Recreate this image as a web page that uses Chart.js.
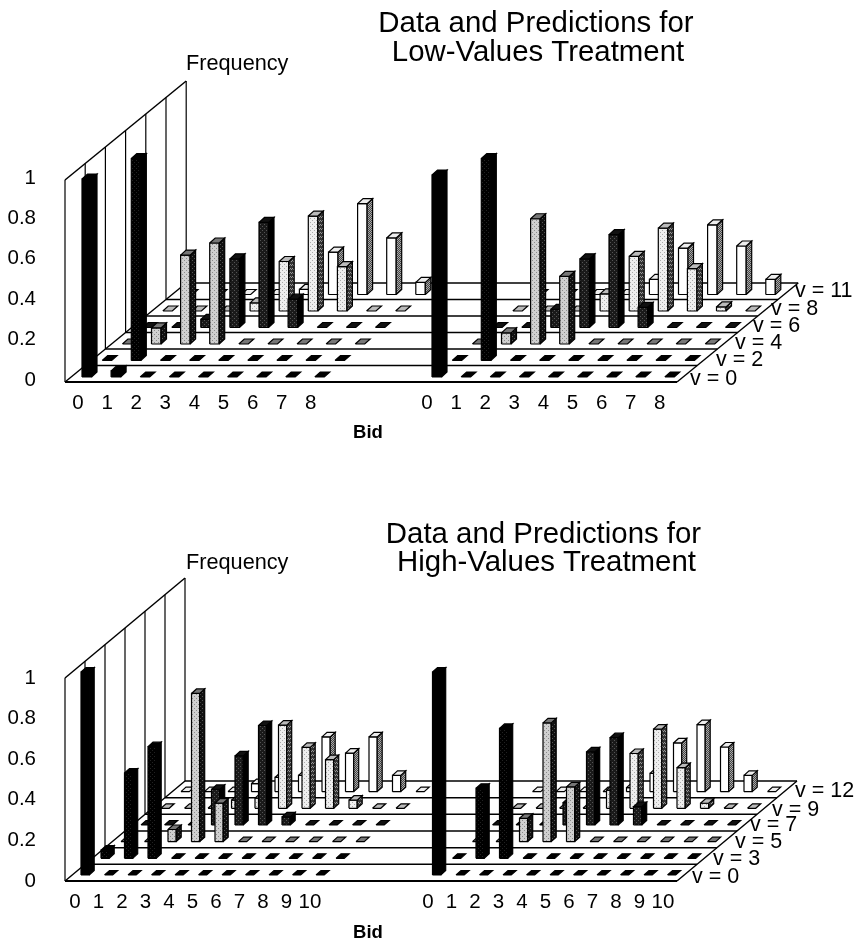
<!DOCTYPE html>
<html><head><meta charset="utf-8">
<style>html,body{margin:0;padding:0;background:#fff}canvas{position:absolute;left:0}</style>
<script src="https://cdn.jsdelivr.net/npm/chart.js@4"></script>
</head><body>
<canvas id="low" width="857" height="470" style="top:0"></canvas>
<canvas id="high" width="857" height="469" style="top:470px"></canvas>
<script>
// ---------- data ----------
const freqTicks = [0, 0.2, 0.4, 0.6, 0.8, 1];
const freqTickLabels = ['0', '0.2', '0.4', '0.6', '0.8', '1'];

const lowBids = ['0','1','2','3','4','5','6','7','8'];
const highBids = ['0','1','2','3','4','5','6','7','8','9','10'];
const lowValues = ['v = 0','v = 2','v = 4','v = 6','v = 8','v = 11'];
const highValues = ['v = 0','v = 3','v = 5','v = 7','v = 9','v = 12'];

const lowData_v0  = [0.98,0.03,0,0,0,0,0,0,0];
const lowData_v2  = [0,1.0,0,0,0,0,0,0,0];
const lowData_v4  = [0,0.08,0.44,0.5,0,0,0,0,0];
const lowData_v6  = [0,0,0.04,0.34,0.52,0.14,0,0,0];
const lowData_v8  = [0,0,0,0.04,0.245,0.47,0.22,0,0];
const lowData_v11 = [0,0,0,0,0.025,0.21,0.45,0.28,0.06];

const lowPred_v0  = [1.0,0,0,0,0,0,0,0,0];
const lowPred_v2  = [0,1.0,0,0,0,0,0,0,0];
const lowPred_v4  = [0,0.055,0.62,0.335,0,0,0,0,0];
const lowPred_v6  = [0,0,0.09,0.34,0.46,0.1,0,0,0];
const lowPred_v8  = [0,0,0,0.085,0.27,0.41,0.21,0.02,0];
const lowPred_v11 = [0,0,0,0,0.075,0.23,0.345,0.24,0.075];

const highData_v0  = [1.0,0,0,0,0,0,0,0,0,0,0];
const highData_v3  = [0.04,0.42,0.55,0,0,0,0,0,0,0,0];
const highData_v5  = [0,0,0.06,0.73,0.19,0,0,0,0,0,0];
const highData_v7  = [0,0,0,0.175,0.34,0.49,0.04,0,0,0,0];
const highData_v9  = [0,0,0,0.04,0.05,0.41,0.3,0.24,0.04,0,0];
const highData_v12 = [0,0,0,0.04,0.07,0.08,0.27,0.19,0.27,0.08,0];

const highPred_v0  = [1.0,0,0,0,0,0,0,0,0,0,0];
const highPred_v3  = [0,0.345,0.64,0,0,0,0,0,0,0,0];
const highPred_v5  = [0,0,0.115,0.585,0.27,0,0,0,0,0,0];
const highPred_v7  = [0,0,0,0.11,0.36,0.43,0.09,0,0,0,0];
const highPred_v9  = [0,0,0,0,0.09,0.27,0.39,0.2,0.025,0,0];
const highPred_v12 = [0,0,0,0,0.02,0.09,0.24,0.33,0.22,0.08,0];

// ---------- styling ----------
function stipple(base, speck, cells) {
  const c = document.createElement('canvas'); c.width = c.height = 4;
  const g = c.getContext('2d');
  g.fillStyle = base; g.fillRect(0, 0, 4, 4);
  g.fillStyle = speck;
  cells.forEach(p => g.fillRect(p[0], p[1], 1, 1));
  return g.createPattern(c, 'repeat');
}
const sparse = [[0,0],[2,2]], dense = [[0,0],[2,0],[1,1],[3,1],[0,2],[2,2],[1,3],[3,3]];
const rowStyles = [
  {front:'#000', side:'#000', top:'#000'},
  {front:stipple('#000','#222',sparse), side:'#000', top:'#000'},
  {front:stipple('#cfcfcf','#8a8a8a',sparse), side:stipple('#111','#555',sparse), top:'#777'},
  {front:stipple('#1a1a1a','#555',sparse), side:'#000', top:'#111'},
  {front:stipple('#eeeeee','#aaa',sparse), side:stipple('#333','#999',dense.slice(0,4)), top:'#bbb'},
  {front:'#fff', side:stipple('#444','#aaa',dense), top:'#eee'}
];

// ---------- oblique projection, in scale units ----------
function build(cfg) {
  const ds = [];
  const poly = (pts, fill, lw) => ds.push({
    data: pts, showLine: true, fill: fill ? 'shape' : false,
    backgroundColor: fill || 'rgba(0,0,0,0)', borderColor: '#000',
    borderWidth: lw === undefined ? 1.2 : lw, pointRadius: 0, tension: 0, clip: false, borderJoinStyle: 'miter'
  });
  const depth = j => ({x: j * cfg.rowX, y: j * cfg.rowY});
  for (let j = 0; j <= 6; j++) {
    const d = depth(j);
    poly([{x:d.x, y:d.y},{x:d.x, y:d.y + 1}], null, 1.2);
  }
  poly([depth(0), depth(6)].map(d => ({x:d.x, y:d.y + 1})), null, 1.5);
  poly([depth(0), depth(6)], null, 1.4);
  poly([depth(0), depth(6)].map(d => ({x:d.x + cfg.floorLen, y:d.y})), null, 1.4);

  for (let j = 5; j >= 0; j--) {
    const st = rowStyles[j];
    const b = depth(j + 1);
    poly([{x:b.x, y:b.y},{x:b.x + cfg.floorLen, y:b.y}], null, 1.5);
    cfg.rows[j].forEach((vals, p) => {
      vals.forEach((v, i) => {
        const x0 = cfg.barStart[p] + i + j * cfg.rowX, y0 = cfg.base + j * cfg.rowY;
        const x1 = x0 + cfg.w, y1 = y0 + v;
        if (v > 0) {
          poly([{x:x0,y:y0},{x:x1,y:y0},{x:x1,y:y1},{x:x0,y:y1},{x:x0,y:y0}], st.front);
          poly([{x:x1,y:y0},{x:x1+cfg.dx,y:y0+cfg.dy},{x:x1+cfg.dx,y:y1+cfg.dy},{x:x1,y:y1},{x:x1,y:y0}], st.side);
        }
        poly([{x:x0,y:y1},{x:x1,y:y1},{x:x1+cfg.dx,y:y1+cfg.dy},{x:x0+cfg.dx,y:y1+cfg.dy},{x:x0,y:y1}], st.top);
      });
    });
  }
  poly([{x:0,y:0},{x:cfg.floorLen,y:0}], null, 1.8);
  return ds.reverse();
}

const textPlugin = {
  id: 'texts',
  afterDraw(chart, args, o) {
    const c = chart.ctx;
    c.save();
    c.fillStyle = '#000'; c.textBaseline = 'middle';
    o.items.forEach(t => {
      c.font = t.font; c.textAlign = t.align;
      c.fillText(t.text, t.x, t.y);
    });
    c.restore();
  }
};
const SANS = '"Liberation Sans", Arial, sans-serif';

function makeChart(id, cfg) {
  const xTicks = [];
  cfg.tickStart.forEach(s => cfg.bids.forEach((b, i) => xTicks.push(s + i)));
  const xLabels = cfg.bids.concat(cfg.bids);
  const items = [];
  cfg.title.forEach(t => items.push({text:t[0], x:t[1], y:t[2], font:'29.4px '+SANS, align:'center'}));
  items.push({text:'Frequency', x:186, y:cfg.freqY, font:'21.7px '+SANS, align:'left'});
  items.push({text:'Bid', x:368, y:cfg.bidY, font:'bold 18.5px '+SANS, align:'center'});
  cfg.vLabels.forEach((t, i) => items.push({text:t, x:cfg.vX[i], y:cfg.vY[i], font:'21.5px '+SANS, align:'left'}));
  return new Chart(document.getElementById(id), {
    type: 'scatter',
    data: {datasets: build(cfg)},
    plugins: [textPlugin],
    options: {
      responsive: false, animation: false, devicePixelRatio: 1,
      layout: {padding: 0},
      events: [],
      plugins: {legend:{display:false}, title:{display:false}, tooltip:{enabled:false}, texts:{items}},
      scales: {
        x: {
          type:'linear', min:0, max:cfg.xMax, bounds:'data',
          grid:{display:false}, border:{display:false},
          afterBuildTicks(s){ s.ticks = xTicks.map(v => ({value:v})); },
          afterFit(s){ s.height = cfg.xAxisH; s.paddingLeft = 0; s.paddingRight = 0; s.paddingTop = 0; s.paddingBottom = 0; },
          ticks:{autoSkip:false, maxRotation:0, padding:cfg.xPad, color:'#000', font:{family:SANS, size:20.5},
            callback:(v,i)=>xLabels[i]}
        },
        y: {
          type:'linear', min:0, max:cfg.yMax, bounds:'data',
          grid:{display:false}, border:{display:false},
          afterBuildTicks(s){ s.ticks = freqTicks.map(v => ({value:v})); },
          afterFit(s){ s.width = 65; s.paddingTop = 0; s.paddingBottom = 0; s.paddingLeft = 0; s.paddingRight = 0; },
          ticks:{autoSkip:false, padding:21, color:'#000', labelOffset:cfg.yLabelOffset, font:{family:SANS, size:20.5},
            callback:(v,i)=>freqTickLabels[i]}
        }
      }
    }
  });
}

makeChart('low', {
  rows: [[lowData_v0,lowPred_v0],[lowData_v2,lowPred_v2],[lowData_v4,lowPred_v4],
         [lowData_v6,lowPred_v6],[lowData_v8,lowPred_v8],[lowData_v11,lowPred_v11]],
  bids: lowBids, vLabels: lowValues,
  rowX: 20.2/29.1, rowY: 16.5/202, floorLen: 612/29.1,
  barStart: [17/29.1, 367/29.1], tickStart: [13/29.1, 362/29.1],
  base: 5/202, w: 9.5/29.1, dx: 5.5/29.1, dy: 5/202,
  xMax: 792/29.1, yMax: 382/202, xAxisH: 88, xPad: 1, yLabelOffset: -2,
  title: [['Data and Predictions for',536,24],['Low-Values Treatment',538,53]],
  freqY: 64, bidY: 433,
  vX: [690,716,735,753,771,795], vY: [379,360,343,326,309,291]
});
makeChart('high', {
  rows: [[highData_v0,highPred_v0],[highData_v3,highPred_v3],[highData_v5,highPred_v5],
         [highData_v7,highPred_v7],[highData_v9,highPred_v9],[highData_v12,highPred_v12]],
  bids: highBids, vLabels: highValues,
  rowX: 20/23.5, rowY: 16.67/203, floorLen: 612/23.5,
  barStart: [16/23.5, 367.5/23.5], tickStart: [10/23.5, 363/23.5],
  base: 6/203, w: 8.2/23.5, dx: 5/23.5, dy: 4.5/203,
  xMax: 792/23.5, yMax: 411/203, xAxisH: 58, xPad: 1, yLabelOffset: 0,
  title: [['Data and Predictions for',543.5,65],['High-Values Treatment',546.5,93]],
  freqY: 93, bidY: 463,
  vX: [692,713,735,750,772,795], vY: [407,389,372,355,340,321]
});
</script>
</body></html>
